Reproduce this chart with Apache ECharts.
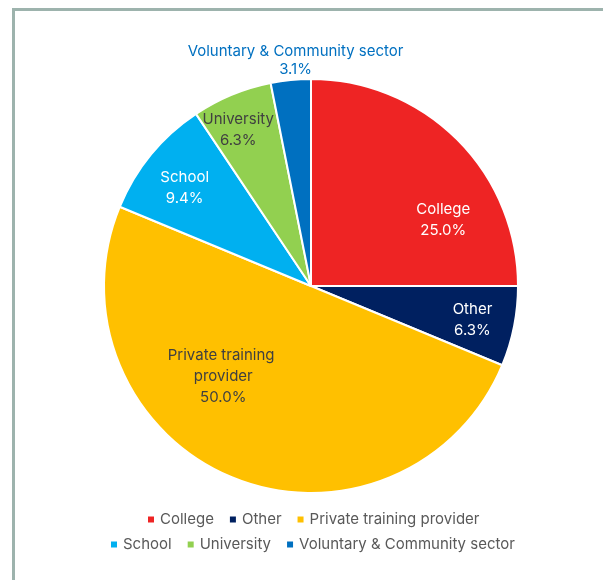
<!DOCTYPE html>
<html>
<head>
<meta charset="utf-8">
<style>
html, body {
  margin: 0;
  padding: 0;
  background: #fff;
}
#chart {
  width: 603px;
  height: 580px;
}
</style>
<script src="https://cdn.jsdelivr.net/npm/echarts@6/dist/echarts.min.js"></script>
</head>
<body>
<div id="chart"></div>
<script>
const categories = ['College', 'Other', 'Private training provider', 'School', 'University', 'Voluntary & Community sector']
const counts = [8, 2, 16, 3, 2, 1]
const colors = ['#EE2424', '#002060', '#FFC000', '#00B0F0', '#92D050', '#0070C0']
const labelColors = ['#fff', '#fff', '#404040', '#fff', '#404040', '#0070C0']
const legendRow1 = ['College', 'Other', 'Private training provider']
const legendRow2 = ['School', 'University', 'Voluntary & Community sector']

// nudges so the labels sit where the original put them
const labelShift = [[57, 9], [57, 13], [-47, -8], [-44, -30], [-32, -58], [-5, -120]]

const font = 'Inter, "Noto Sans", sans-serif'
const chart = echarts.init(document.getElementById('chart'))

const legendBase = {
  icon: 'rect',
  itemWidth: 8,
  itemHeight: 8,
  itemGap: 14,
  textStyle: { color: '#595959', fontSize: 15, fontFamily: font }
}

chart.setOption({
  animation: false,
  color: colors,
  graphic: [{
    type: 'rect',
    shape: { x: 13.5, y: 9.5, width: 800, height: 800 },
    style: { fill: 'none', stroke: '#9DB3AD', lineWidth: 3 }
  }],
  legend: [
    Object.assign({ top: 507, left: 141, data: legendRow1 }, legendBase),
    Object.assign({ top: 532, left: 104, data: legendRow2 }, legendBase)
  ],
  series: [{
    type: 'pie',
    center: [311, 286],
    radius: 207,
    startAngle: 90,
    clockwise: true,
    itemStyle: { borderColor: '#fff', borderWidth: 2 },
    label: {
      position: 'inside',
      fontSize: 15,
      fontFamily: font,
      lineHeight: 21,
      formatter: p => p.name + '\n' + (p.percent).toFixed(1) + '%'
    },
    labelLayout: p => ({ dx: labelShift[p.dataIndex][0], dy: labelShift[p.dataIndex][1] }),
    data: categories.map((name, i) => ({
      name,
      value: counts[i],
      label: i === 2
        ? { color: labelColors[i], width: 130, overflow: 'break' }
        : i === 5
          ? { color: labelColors[i], lineHeight: 18 }
          : { color: labelColors[i] }
    }))
  }]
})
</script>
</body>
</html>
